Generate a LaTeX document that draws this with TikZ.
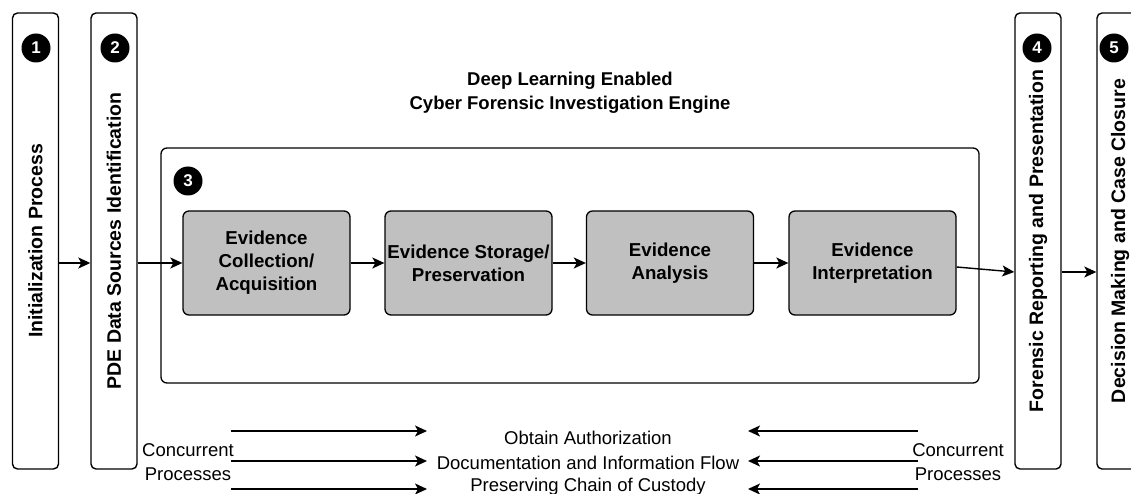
\documentclass[tikz,border=0pt]{standalone}
\usepackage{fontspec}
\setmainfont{Liberation Sans}
\usetikzlibrary{arrows.meta,positioning}
\definecolor{boxgray}{RGB}{192,192,192}
\tikzset{x=1pt, y=-1pt,
  arr/.style={line width=1.4pt, -{Stealth[length=12pt,width=11pt,inset=3pt]}},
  bar/.style={draw, line width=1.4pt, rounded corners=5pt, rotate=90,
    minimum width=456pt, minimum height=46pt, inner sep=0pt,
    font=\fontsize{19.5}{22}\selectfont\bfseries},
  evbox/.style={draw, line width=1.3pt, rounded corners=6pt, fill=boxgray,
    minimum width=167pt, minimum height=104pt, align=center, inner sep=1pt,
    font=\fontsize{18.7}{23}\selectfont\bfseries},
  num/.style={circle, fill=black, text=white, minimum size=29pt, inner sep=0pt,
    font=\fontsize{17}{17}\selectfont\bfseries},
  txt/.style={font=\fontsize{18.5}{24}\selectfont, align=center, inner sep=0pt}}

\begin{document}
\begin{tikzpicture}
  \useasboundingbox (0,0) rectangle (1131,494);
  % phases
  \node (bar1) [bar] at (35.5,241) {Initialization Process};
  \node (bar2) [bar] at (114,241) {PDE Data Sources Identification};
  \node (bar4) [bar] at (1038,241) {Forensic Reporting and Presentation};
  \node (bar5) [bar] at (1120,241) {Decision Making and Case Closure};
  \node [num] at (36,48) {1};
  \node [num] at (115,48) {2};
  \node [num] at (1037,48) {4};
  \node [num] at (1114,48) {5};
  % engine
  \node (eng) [draw, line width=1.3pt, rounded corners=6pt, minimum width=818pt,
    minimum height=235pt] at (570,265.5) {};
  \node [num] at (188,181) {3};
  \node (title) [txt, font=\fontsize{18.5}{24}\selectfont\bfseries] at (570,93)
    {Deep Learning Enabled\\Cyber Forensic Investigation Engine};
  \node (ev1) [evbox] at (266.5,263) {Evidence\\Collection/\\Acquisition};
  \node (ev2) [evbox] at (468.5,263) {Evidence Storage/\\Preservation};
  \node (ev3) [evbox] at (670,263) {Evidence\\Analysis};
  \node (ev4) [evbox] at (872.5,263) {Evidence\\Interpretation};
  \draw[arr] (bar1.south |- ev1) -- (bar2.north |- ev1);
  \draw[arr] (bar2.south |- ev1) -- (ev1);
  \draw[arr] (ev1) -- (ev2);
  \draw[arr] (ev2) -- (ev3);
  \draw[arr] (ev3) -- (ev4);
  \draw[arr] ([yshift=-4pt]ev4.east) -- ([yshift=-9pt]bar4.north |- ev4);
  \draw[arr] ([yshift=-9pt]bar4.south |- ev4) -- ([yshift=-9pt]bar5.north |- ev4);
  % concurrent processes
  \node (cl) [txt] at (188,462) {Concurrent\\Processes};
  \node (cr) [txt] at (958,462) {Concurrent\\Processes};
  \node (auth) [txt] at (588,438) {Obtain Authorization};
  \node (doc) [txt] at (588,463) {Documentation and Information Flow};
  \node (chain) [txt] at (588,487) {Preserving Chain of Custody};
  \foreach \y in {431,461,489} {
    \coordinate (l\y) at (231,\y);
    \coordinate (r\y) at (918,\y);
    \draw[arr] (l\y) -- +(196,0);
    \draw[arr] (r\y) -- +(-170,0);
  }
\end{tikzpicture}
\end{document}
